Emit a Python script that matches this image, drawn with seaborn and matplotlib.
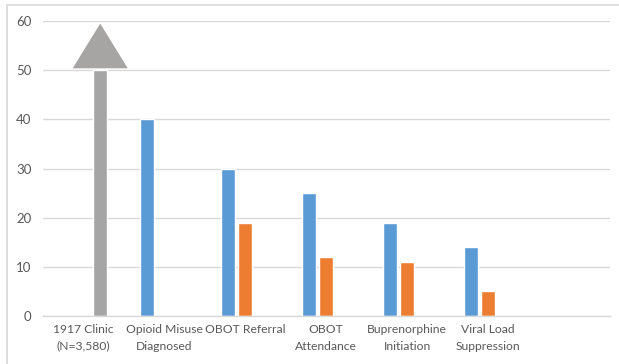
import numpy as np
import pandas as pd
import matplotlib
matplotlib.use("Agg")
import matplotlib.pyplot as plt
from matplotlib.patches import Polygon
from matplotlib.lines import Line2D
import seaborn as sns

# Cascade stages (last slot left empty on the axis)
categories = ["1917 Clinic\n(N=3,580)", "Opioid Misuse\nDiagnosed", "OBOT Referral",
              "OBOT\nAttendance", "Buprenorphine\nInitiation", "Viral Load\nSuppression", " "]
series_names = ["Series A", "Series B", "Clinic"]
series_a = [np.nan, 40, 30, 25, 19, 14, np.nan]
series_b = [np.nan, np.nan, 19, 12, 11, 5, np.nan]
clinic = [50, np.nan, np.nan, np.nan, np.nan, np.nan, np.nan]
y_ticks = [0, 10, 20, 30, 40, 50, 60]

colors = {"Series A": "#5B9BD5", "Series B": "#ED7D31", "Clinic": "#A5A5A5"}

rows = []
for name, vals in zip(series_names, [series_a, series_b, clinic]):
    for cat, v in zip(categories, vals):
        rows.append({"stage": cat, "series": name, "value": v})
df = pd.DataFrame(rows)

sns.set_theme(style="white")
plt.rcParams["font.family"] = ["Lato", "DejaVu Sans"]

fig = plt.figure(figsize=(6.19, 3.64), dpi=100)
ax = fig.add_axes([0.069, 0.132, 0.916, 0.810])

sns.barplot(data=df, x="stage", y="value", hue="series", order=categories,
            hue_order=series_names, palette=colors, width=0.63, gap=0.18,
            saturation=1, legend=False, ax=ax, errorbar=None)

# Arrowhead on top of the clinic bar
for patch in ax.patches:
    h = patch.get_height()
    if np.isfinite(h) and h > 0 and patch.get_facecolor()[:3] == matplotlib.colors.to_rgb(colors["Clinic"]):
        cx = patch.get_x() + patch.get_width() / 2
        tri = Polygon([[cx - 0.34, h + 0.4], [cx + 0.34, h + 0.4], [cx, h + 9.5]],
                      closed=True, facecolor="#A7A4A4", edgecolor="none", zorder=3)
        ax.add_patch(tri)

ax.set_xlim(-0.5, len(categories) - 0.5)
ax.set_ylim(0, 60)
ax.set_yticks(y_ticks)
ax.set_yticklabels([str(t) for t in y_ticks])
ax.set_xlabel("")
ax.set_ylabel("")
ax.grid(axis="y", color="#D9D9D9", linewidth=1.0)
ax.set_axisbelow(True)
for s in ["left", "right", "top"]:
    ax.spines[s].set_visible(False)
ax.spines["bottom"].set_color("#D9D9D9")
ax.spines["bottom"].set_linewidth(1.0)
ax.tick_params(axis="both", length=0, colors="#595959")
ax.tick_params(axis="y", pad=8, labelsize=9.5)
ax.tick_params(axis="x", pad=6, labelsize=8.7)
for lbl in ax.get_xticklabels():
    lbl.set_linespacing(1.6)

# Chart-area border
fig.add_artist(Line2D([7 / 619, 7 / 619], [0, 1 - 5 / 364], transform=fig.transFigure,
                      color="#D9D9D9", linewidth=1.2))
fig.add_artist(Line2D([7 / 619, 1], [1 - 5 / 364, 1 - 5 / 364], transform=fig.transFigure,
                      color="#D9D9D9", linewidth=1.2))

fig.savefig("out.png", dpi=100, facecolor="white")
